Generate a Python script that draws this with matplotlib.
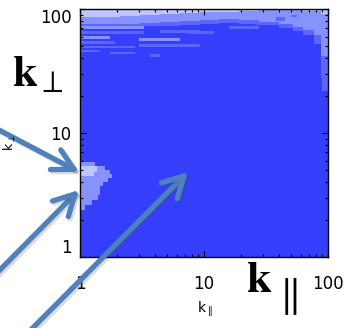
import matplotlib
matplotlib.use('Agg')
import matplotlib.pyplot as plt
import matplotlib.patheffects as pe
from matplotlib.patches import FancyArrowPatch, ArrowStyle, Rectangle
from matplotlib.ticker import LogLocator, NullFormatter

# contour levels of the spectrum, background first
level_colors = ['#343efb', '#5a66fd', '#8792fe', '#bec5ff']

# high k_perp band, binned along k_par: lower k_perp edge of each level
band_kpar_edges = [1, 1.45, 2.1, 3.03, 4.4, 6.35, 9.2, 13.3, 19.3, 27.9, 40, 52.6, 63.4, 76.5, 87, 100]
band_l1_kperp = [71.6, 71.6, 71.6, 72.9, 72.9, 74.3, 75.7, 77.1, 76.0, 74.3, 70.0, 66.5, 62.0, 52.0, 28.0]
band_l2_kperp = [75.7, 75.7, 75.7, 77.1, 78.6, 80.0, 81.5, 83.0, 81.5, 78.6, 75.7, 71.6, 68.0, 62.0, 42.0]
band_l3_kperp = [86.2, 86.2, 87.8, 89.4, 91.1, 92.8, 94.5, 94.5, 96.3, 98.2, 98.2, 98.2, 96.3, 96.3, 92.0]

# streaks below the band: k_par range, k_perp range, level
streak_kpar_lo = [1.0, 1.0, 4.4, 1.0, 3.0, 1.0, 1.0, 3.0, 1.0, 1.74, 3.65, 7.6, 16, 38, 50, 26, 90]
streak_kpar_hi = [3.3, 3.3, 9.2, 1.74, 6.35, 1.9, 2.8, 9.2, 1.45, 2.8, 4.4, 12, 28, 45, 56, 30, 100]
streak_kperp_lo = [69.0, 62.9, 64.1, 57.3, 55.3, 52.3, 48.7, 49.5, 45.2, 43.6, 41.2, 62.9, 69.0, 80.0, 86.0, 74.0, 22.0]
streak_kperp_hi = [72.9, 66.5, 67.8, 60.6, 58.4, 55.3, 50.4, 52.3, 46.9, 45.2, 43.6, 66.5, 72.9, 86.0, 90.0, 77.0, 28.0]
streak_level = [2, 1, 1, 2, 2, 1, 1, 1, 1, 1, 1, 1, 1, 1, 1, 1, 1]

# low k patch at the left edge, binned along k_perp: k_par extent
patch_kperp_edges = [2.39, 2.63, 2.88, 3.16, 3.47, 3.74, 4.03, 4.34, 4.67, 5.03, 5.42, 5.83]
patch_kpar = [1.10, 1.25, 1.39, 1.45, 1.45, 1.53, 1.68, 1.81, 1.74, 1.59, 1.32]
core_kperp_edges = [4.5, 4.85, 5.42]
core_kpar = [1.30, 1.37]

fig = plt.figure(figsize=(3.5, 3.28), dpi=100)
ax = fig.add_axes([0.2286, 0.2165, 0.7086, 0.756])
ax.set_xscale('log')
ax.set_yscale('log')
ax.set_xlim(1, 100)
ax.set_ylim(1, 100)
ax.set_facecolor(level_colors[0])

ax.stairs(band_l1_kperp, band_kpar_edges, baseline=100, fill=True, color=level_colors[1], lw=0)
ax.stairs(band_l2_kperp, band_kpar_edges, baseline=100, fill=True, color=level_colors[2], lw=0)
for x0, x1, y0, y1, lv in zip(streak_kpar_lo, streak_kpar_hi, streak_kperp_lo, streak_kperp_hi, streak_level):
    ax.add_patch(Rectangle((x0, y0), x1 - x0, y1 - y0, color=level_colors[lv], lw=0))
ax.stairs(band_l3_kperp, band_kpar_edges, baseline=100, fill=True, color=level_colors[3], lw=0)

ax.stairs(patch_kpar, patch_kperp_edges, orientation='horizontal', baseline=1, fill=True,
          color=level_colors[2], lw=0)
ax.stairs(core_kpar, core_kperp_edges, orientation='horizontal', baseline=1, fill=True,
          color=level_colors[3], lw=0)

for s in ax.spines.values():
    s.set_linewidth(1.0)
ax.set_xticks([1, 10, 100])
ax.set_xticklabels(['1', '10', '100'])
ax.set_yticks([1, 10, 100])
ax.set_yticklabels(['1', '10', '100'])
ax.xaxis.set_minor_locator(LogLocator(subs=range(2, 10)))
ax.yaxis.set_minor_locator(LogLocator(subs=range(2, 10)))
ax.xaxis.set_minor_formatter(NullFormatter())
ax.yaxis.set_minor_formatter(NullFormatter())
ax.tick_params(which='both', direction='in', top=True, right=True, width=0.8)
ax.tick_params(which='major', length=4, labelsize=12)
ax.tick_params(which='minor', length=2)
ax.tick_params(axis='x', pad=13)
ax.tick_params(axis='y', pad=6)
ylabels = ax.get_yticklabels()
ylabels[0].set_va('bottom')
ylabels[2].set_va('top')

# small axis names
fig.text(205 / 350, 1 - 309 / 328, r'k$_{\parallel}$', fontsize=10, ha='center', va='center')
fig.text(10 / 350, 1 - 143 / 328, r'k$_{\perp}$', fontsize=9, rotation=90, ha='center', va='center')

# big labels
fig.text(12 / 350, 1 - 86 / 328, r'$\mathbf{k}_{\perp}$', fontsize=32, math_fontfamily='stix',
         ha='left', va='baseline')
fig.text(246 / 350, 1 - 292 / 328, r'$\mathbf{k}$', fontsize=32, math_fontfamily='stix',
         ha='left', va='baseline')
fig.text(285 / 350, 1 - 296 / 328, r'$\parallel$', fontsize=30, math_fontfamily='stix',
         ha='center', va='center')

# pointer arrows
arrow_tails = [(-0.014, 0.610), (-0.029, 0.146), (0.071, -0.024)]
arrow_heads = [(0.2257, 0.4756), (0.2257, 0.4207), (0.5371, 0.4756)]
style = ArrowStyle('->', head_length=1.5, head_width=0.8)
for t, h in zip(arrow_tails, arrow_heads):
    a = FancyArrowPatch(t, h, transform=fig.transFigure, arrowstyle=style, mutation_scale=10,
                        color='#4f81bd', lw=3.8, capstyle='round', joinstyle='round',
                        shrinkA=0, shrinkB=0, clip_on=False,
                        path_effects=[pe.SimpleLineShadow(offset=(1.5, -1.5), shadow_color='0.3', alpha=0.2),
                                      pe.Normal()])
    fig.add_artist(a)

fig.savefig('out.png', dpi=100)
